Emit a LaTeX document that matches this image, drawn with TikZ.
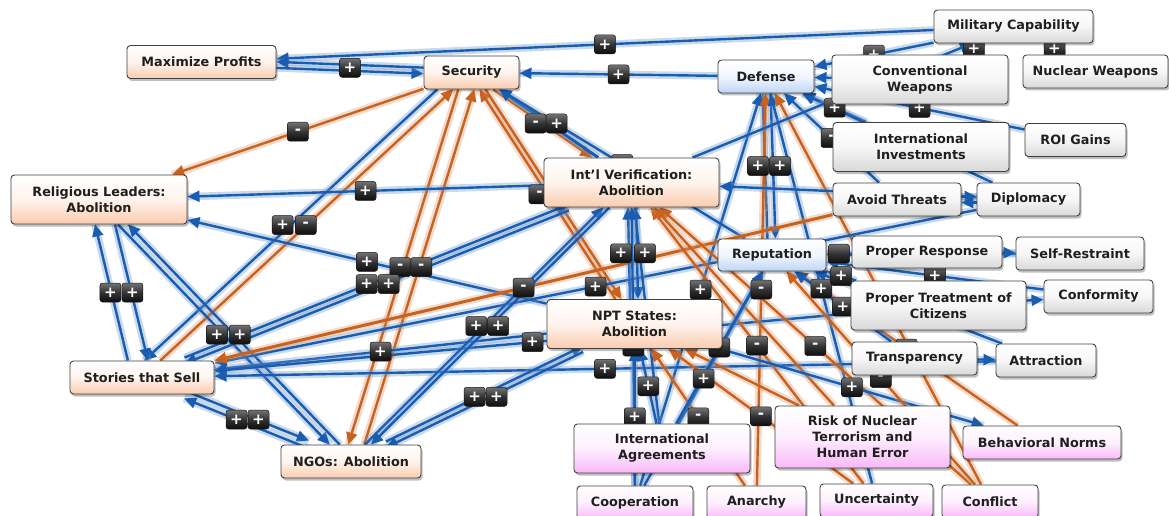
\documentclass[tikz,border=0pt]{standalone}
\usepackage{fontspec}
\setmainfont{DejaVu Sans}
\usetikzlibrary{arrows.meta,shadows}

\pgfdeclarelayer{bg}
\pgfdeclarelayer{edges}
\pgfdeclarelayer{badges}
\pgfsetlayers{bg,edges,badges,main}

\definecolor{lnkblue}{RGB}{26,92,176}
\definecolor{lnkorange}{RGB}{200,98,30}
\definecolor{peach}{RGB}{251,203,174}
\definecolor{skyb}{RGB}{190,213,246}
\definecolor{greyb}{RGB}{216,216,216}
\definecolor{pinkb}{RGB}{249,184,249}

\tikzset{
  box/.style={draw=black!75, line width=0.9pt, rounded corners=3.5pt, align=center,
    font=\bfseries\fontsize{12.8}{16}\selectfont, text=black!88,
    minimum height=33pt, inner xsep=4pt, inner ysep=8pt,
    drop shadow={shadow xshift=1.5pt, shadow yshift=-2.5pt, opacity=.25, fill=black},
    top color=white, bottom color=#1, middle color=#1!22},
  two/.style={minimum height=49pt},
  three/.style={minimum height=62pt},
  badge/.style={midway, rounded corners=2.5pt, draw=black!90, line width=.5pt,
    top color=black!55, bottom color=black!95, middle color=black!80,
    minimum width=21pt, minimum height=19pt, inner sep=0pt, text=white,
    font=\bfseries\fontsize{15}{15}\selectfont},
  be/.style={draw=lnkblue, line width=2.4pt, -{Triangle[length=12pt,width=11pt]},
    preaction={draw=lnkblue!65, opacity=.35, line width=7.5pt, arrows=-}},
  oe/.style={draw=lnkorange, line width=2.4pt, -{Triangle[length=12pt,width=11pt]},
    preaction={draw=lnkorange!65, opacity=.35, line width=7.5pt, arrows=-}},
}

% one causal link: [offset], style, source, target, badge options, sign (empty = no badge)
\newcommand\cmlink[6][]{%
  \begin{pgfonlayer}{edges}\begin{scope}[#1]\draw[#2] (#3) -- (#4);\end{scope}\end{pgfonlayer}%
  \if\relax\detokenize{#6}\relax\else
    \begin{pgfonlayer}{badges}\path (#3) -- node[badge,#5]{#6} (#4);\end{pgfonlayer}%
  \fi}

\begin{document}
\begin{tikzpicture}[x=1pt,y=-1pt]
\useasboundingbox (0,0) rectangle (1169,516);
\begin{pgfonlayer}{bg}\fill[white] (0,0) rectangle (1169,516);\end{pgfonlayer}

% concepts
\node[box=peach, minimum width=149pt] (mp) at (201.5,62) {Maximize Profits};
\node[box=peach, minimum width=95pt] (sec) at (471.5,72.5) {Security};
\node[box=skyb, minimum width=96pt] (def) at (766,76.5) {Defense};
\node[box=greyb, minimum width=159pt] (mc) at (1013.5,26.5) {Military Capability};
\node[box=greyb, two, minimum width=176pt] (cw) at (920,79.5) {Conventional\\Weapons};
\node[box=greyb, minimum width=145pt] (nw) at (1095.5,71.5) {Nuclear Weapons};
\node[box=greyb, two, minimum width=176pt] (ii) at (921,147) {International\\Investments};
\node[box=greyb, minimum width=101pt] (roi) at (1075.5,140) {ROI Gains};
\node[box=greyb, minimum width=128pt] (at) at (897,199.5) {Avoid Threats};
\node[box=greyb, minimum width=103pt] (dip) at (1028.5,199.5) {Diplomacy};
\node[box=peach, two, minimum width=176pt] (rl) at (99,199.5) {Religious Leaders:\\Abolition};
\node[box=peach, two, minimum width=175pt] (iv) at (631.5,182.5) {Int'l Verification:\\Abolition};
\node[box=skyb, minimum width=108pt, minimum height=32pt] (rep) at (772,255) {Reputation};
\node[box=greyb, minimum width=150pt, minimum height=32pt] (pr) at (927,252) {Proper Response};
\node[box=greyb, minimum width=128pt] (sr) at (1080,253.5) {Self-Restraint};
\node[box=greyb, two, minimum width=175pt] (ptc) at (938.5,305.5) {Proper Treatment of\\Citizens};
\node[box=greyb, minimum width=109pt] (conf) at (1098.5,296.5) {Conformity};
\node[box=greyb, minimum width=125pt] (tr) at (914.5,358.5) {Transparency};
\node[box=greyb, minimum width=100pt] (att) at (1046,360.5) {Attraction};
\node[box=peach, minimum width=144pt] (sts) at (142,377.5) {Stories that Sell};
\node[box=peach, two, minimum width=175pt] (npt) at (634.5,324) {NPT States:\\Abolition};
\node[box=peach, minimum width=140pt] (ngo) at (351,461.5) {NGOs: Abolition};
\node[box=pinkb, two, minimum width=176pt] (ia) at (662,448.5) {International\\Agreements};
\node[box=pinkb, three, minimum width=175pt] (risk) at (862.5,437) {Risk of Nuclear\\Terrorism and\\Human Error};
\node[box=pinkb, minimum width=158pt] (bn) at (1042,442.5) {Behavioral Norms};
\node[box=pinkb, minimum width=116pt] (coop) at (635,502.5) {Cooperation};
\node[box=pinkb, minimum width=99pt] (ana) at (756.5,502.5) {Anarchy};
\node[box=pinkb, minimum width=113pt] (unc) at (876.5,500.5) {Uncertainty};
\node[box=pinkb, minimum width=96pt] (confl) at (990,501.5) {Conflict};

% links around the top row
\cmlink{be}{mc}{mp}{}{+}
\cmlink[transform canvas={yshift=-3pt}]{be}{mp}{sec}{}{+}
\cmlink[transform canvas={yshift=3pt}]{be}{sec}{mp}{}{}
\cmlink{be}{def}{sec}{}{+}
\cmlink{be}{mc}{def}{}{+}
\cmlink{be}{cw}{mc}{}{+}
\cmlink{be}{nw}{mc}{}{+}
\cmlink{be}{cw}{def}{}{}
\cmlink{be}{ii}{def}{}{+}
\cmlink{be}{roi}{def}{}{+}
\cmlink{be}{at}{def}{}{-}
\cmlink{be}{dip}{def}{}{}
\cmlink[transform canvas={xshift=-4pt}]{be}{rep}{def}{xshift=-11pt}{+}
\cmlink[transform canvas={xshift=4pt}]{be}{def}{rep}{xshift=11pt}{+}
\cmlink{be}{coop}{def}{}{+}
\cmlink{oe}{ana}{def}{}{-}
\cmlink{be}{unc}{def}{}{+}
\cmlink{oe}{confl}{def}{}{}

% links at Security
\cmlink[transform canvas={xshift=-3pt}]{oe}{sec}{iv}{xshift=-10pt}{-}
\cmlink[transform canvas={xshift=3pt}]{be,line width=3pt}{iv}{sec}{xshift=11pt}{+}
\cmlink{be}{rep}{sec}{}{{}}
\cmlink[transform canvas={xshift=-3pt}]{oe}{npt}{sec}{xshift=-11pt}{-}
\cmlink[transform canvas={xshift=3pt}]{oe}{sec}{npt}{xshift=11pt}{{}}
\cmlink{oe}{sec}{rl}{}{-}
\cmlink[transform canvas={xshift=-16pt}]{be}{sec}{sts}{xshift=-24pt}{+}
\cmlink{oe}{sts}{sec}{xshift=-1pt}{-}
\cmlink[transform canvas={xshift=-8pt}]{oe}{sec}{ngo}{xshift=-11pt}{-}
\cmlink[transform canvas={xshift=8pt}]{oe}{ngo}{sec}{xshift=10pt}{-}

% links at the religious leaders, stories and NGOs
\cmlink{be}{iv}{rl}{}{+}
\cmlink{be}{npt}{rl}{}{+}
\cmlink[transform canvas={xshift=-10pt}]{be}{sts}{rl}{xshift=-11pt}{+}
\cmlink[transform canvas={xshift=10pt}]{be}{rl}{sts}{xshift=11pt}{+}
\cmlink[transform canvas={xshift=-5pt}]{be}{rl}{ngo}{xshift=-12pt}{+}
\cmlink[transform canvas={xshift=5pt}]{be}{ngo}{rl}{xshift=11pt}{+}
\cmlink[transform canvas={yshift=4pt}]{be}{sts}{ngo}{xshift=-10pt}{+}
\cmlink[transform canvas={yshift=-4pt}]{be}{ngo}{sts}{xshift=12pt}{+}
\cmlink[transform canvas={yshift=3pt}]{be}{sts}{iv}{xshift=-10pt}{+}
\cmlink[transform canvas={yshift=-3pt}]{be}{iv}{sts}{xshift=12pt}{+}
\cmlink{be}{npt}{sts}{}{+}
\cmlink{be}{ptc}{sts}{}{+}
\cmlink{be}{att}{sts}{}{+}
\cmlink{be}{dip}{sts}{}{+}
\cmlink{oe,line width=3pt}{at}{sts}{}{-}
\cmlink[transform canvas={xshift=-3pt}]{be}{ngo}{iv}{xshift=-11pt}{+}
\cmlink[transform canvas={xshift=3pt}]{be}{iv}{ngo}{xshift=11pt}{+}
\cmlink[transform canvas={yshift=3pt}]{be}{ngo}{npt}{xshift=-10pt}{+}
\cmlink[transform canvas={yshift=-3pt}]{be}{npt}{ngo}{xshift=12pt}{+}

% links at verification and NPT states
\cmlink[transform canvas={xshift=-4pt}]{be}{npt}{iv}{xshift=-12pt}{+}
\cmlink[transform canvas={xshift=4pt}]{be}{iv}{npt}{xshift=12pt}{+}
\cmlink{be}{dip}{iv}{}{}
\cmlink{be}{iv}{mc}{}{}
\cmlink{be}{ia}{iv}{}{}
\cmlink{be}{coop}{iv}{}{{}}
\cmlink{oe}{unc}{iv}{}{-}
\cmlink{oe}{confl}{iv}{}{-}
\cmlink{oe}{risk}{iv}{}{}
\cmlink{be}{ia}{npt}{}{+}
\cmlink{be}{coop}{npt}{}{+}
\cmlink{oe}{ana}{npt}{}{-}
\cmlink{oe}{unc}{npt}{}{-}
\cmlink{oe}{risk}{npt}{}{}
\cmlink{be}{npt}{bn}{}{+}

% links at reputation
\cmlink{be}{coop}{rep}{}{+}
\cmlink{be}{ia}{rep}{}{{}}
\cmlink{oe}{confl}{rep}{}{-}
\cmlink{oe}{bn}{rep}{}{{}}
\cmlink{be}{ptc}{rep}{}{+}
\cmlink{be}{pr}{rep}{}{{}}
\cmlink{be}{conf}{rep}{}{+}
\cmlink{be}{tr}{rep}{}{+}
\cmlink{be}{sr}{rep}{}{}
\cmlink{be}{att}{rep}{}{}

% right-hand cluster
\cmlink[transform canvas={yshift=3pt}]{be}{at}{dip}{}{}
\cmlink[transform canvas={yshift=-3pt}]{be}{dip}{at}{}{}
\cmlink{be}{pr}{sr}{}{}
\cmlink{be}{ptc}{conf}{}{}
\cmlink{be}{tr}{att}{}{}
\end{tikzpicture}
\end{document}
